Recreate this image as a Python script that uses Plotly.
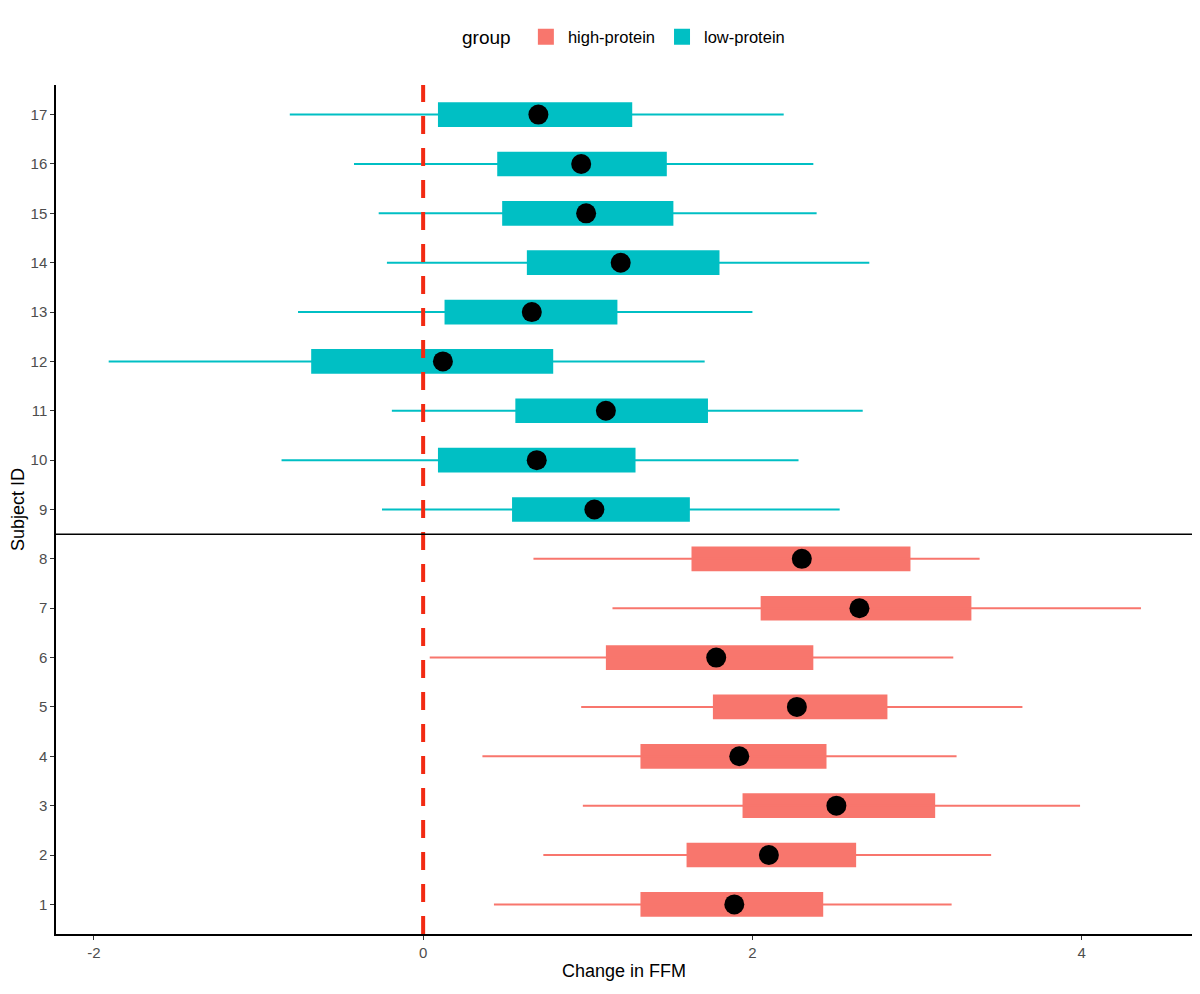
import plotly.graph_objects as go

# subject ids and summary intervals
subject_id = list(range(1, 18))
group = ["high-protein"] * 8 + ["low-protein"] * 9
lo_whisk = [0.43, 0.73, 0.97, 0.36, 0.96, 0.04, 1.15, 0.67,
            -0.25, -0.86, -0.19, -1.91, -0.76, -0.22, -0.27, -0.42, -0.81]
lo_box = [1.32, 1.60, 1.94, 1.32, 1.76, 1.11, 2.05, 1.63,
          0.54, 0.09, 0.56, -0.68, 0.13, 0.63, 0.48, 0.45, 0.09]
mid = [1.89, 2.10, 2.51, 1.92, 2.27, 1.78, 2.65, 2.30,
       1.04, 0.69, 1.11, 0.12, 0.66, 1.20, 0.99, 0.96, 0.70]
hi_box = [2.43, 2.63, 3.11, 2.45, 2.82, 2.37, 3.33, 2.96,
          1.62, 1.29, 1.73, 0.79, 1.18, 1.80, 1.52, 1.48, 1.27]
hi_whisk = [3.21, 3.45, 3.99, 3.24, 3.64, 3.22, 4.36, 3.38,
            2.53, 2.28, 2.67, 1.71, 2.00, 2.71, 2.39, 2.37, 2.19]
x_ticks = [-2, 0, 2, 4]

colors = {"high-protein": "#F8766D", "low-protein": "#00BFC4"}
FONT = "Arial, Liberation Sans, sans-serif"

fig = go.Figure()

# thin whisker lines
for g in ["high-protein", "low-protein"]:
    xs, ys = [], []
    for i, gg in enumerate(group):
        if gg == g:
            xs += [lo_whisk[i], hi_whisk[i], None]
            ys += [subject_id[i], subject_id[i], None]
    fig.add_trace(go.Scatter(x=xs, y=ys, mode="lines", showlegend=False,
                             line=dict(color=colors[g], width=2), hoverinfo="skip"))

# thick inner bars
for g in ["high-protein", "low-protein"]:
    idx = [i for i, gg in enumerate(group) if gg == g]
    fig.add_trace(go.Bar(
        orientation="h",
        y=[subject_id[i] for i in idx],
        base=[lo_box[i] for i in idx],
        x=[hi_box[i] - lo_box[i] for i in idx],
        width=0.5, name=g, showlegend=False,
        marker=dict(color=colors[g], line=dict(width=0)),
    ))
    # bigger square keys for the legend
    fig.add_trace(go.Scatter(x=[None], y=[None], mode="markers", name=g,
                             marker=dict(symbol="square", size=24, color=colors[g])))

# point estimates
fig.add_trace(go.Scatter(x=mid, y=subject_id, mode="markers", showlegend=False,
                         marker=dict(color="black", size=20)))

fig.add_shape(type="line", xref="x", yref="paper", x0=0, x1=0, y0=0, y1=1,
              line=dict(color="#F22A12", width=4, dash="18px,14px"), layer="above")
fig.add_shape(type="line", xref="paper", yref="y", x0=0, x1=1, y0=8.5, y1=8.5,
              line=dict(color="black", width=1.5), layer="above")

# the page adds an 8px body margin, so everything is laid out 8px up/left
fig.update_layout(
    width=1200, height=994,
    margin=dict(l=48, r=16, t=77, b=68),
    plot_bgcolor="white", paper_bgcolor="white",
    font=dict(family=FONT, size=14, color="#4D4D4D"),
    barmode="overlay",
    legend=dict(orientation="h", x=617 / 1200, xanchor="center", xref="container",
                y=1 - 29 / 994, yanchor="middle", yref="container",
                title=dict(text="group ", font=dict(size=19, color="black")),
                font=dict(size=16.5, color="black"), itemwidth=34),
    xaxis=dict(range=[-2.23, 4.67], tickvals=x_ticks, ticktext=[str(t) for t in x_ticks],
               showgrid=False, automargin=False,
               zeroline=False, showline=True, linecolor="black", linewidth=1.5,
               ticks="outside", ticklen=4, tickcolor="#333333",
               tickfont=dict(size=15, color="#4D4D4D"),
               title=dict(text="Change in FFM", font=dict(size=18, color="black"), standoff=5)),
    yaxis=dict(range=[0.4, 17.6], tickvals=subject_id, showgrid=False, automargin=False,
               zeroline=False, showline=True, linecolor="black", linewidth=1.5,
               ticks="outside", ticklen=4, tickcolor="#333333",
               tickfont=dict(size=15, color="#4D4D4D"),
               title=dict(text="Subject ID", font=dict(size=18, color="black"), standoff=8)),
)

fig.write_html("out.html")
